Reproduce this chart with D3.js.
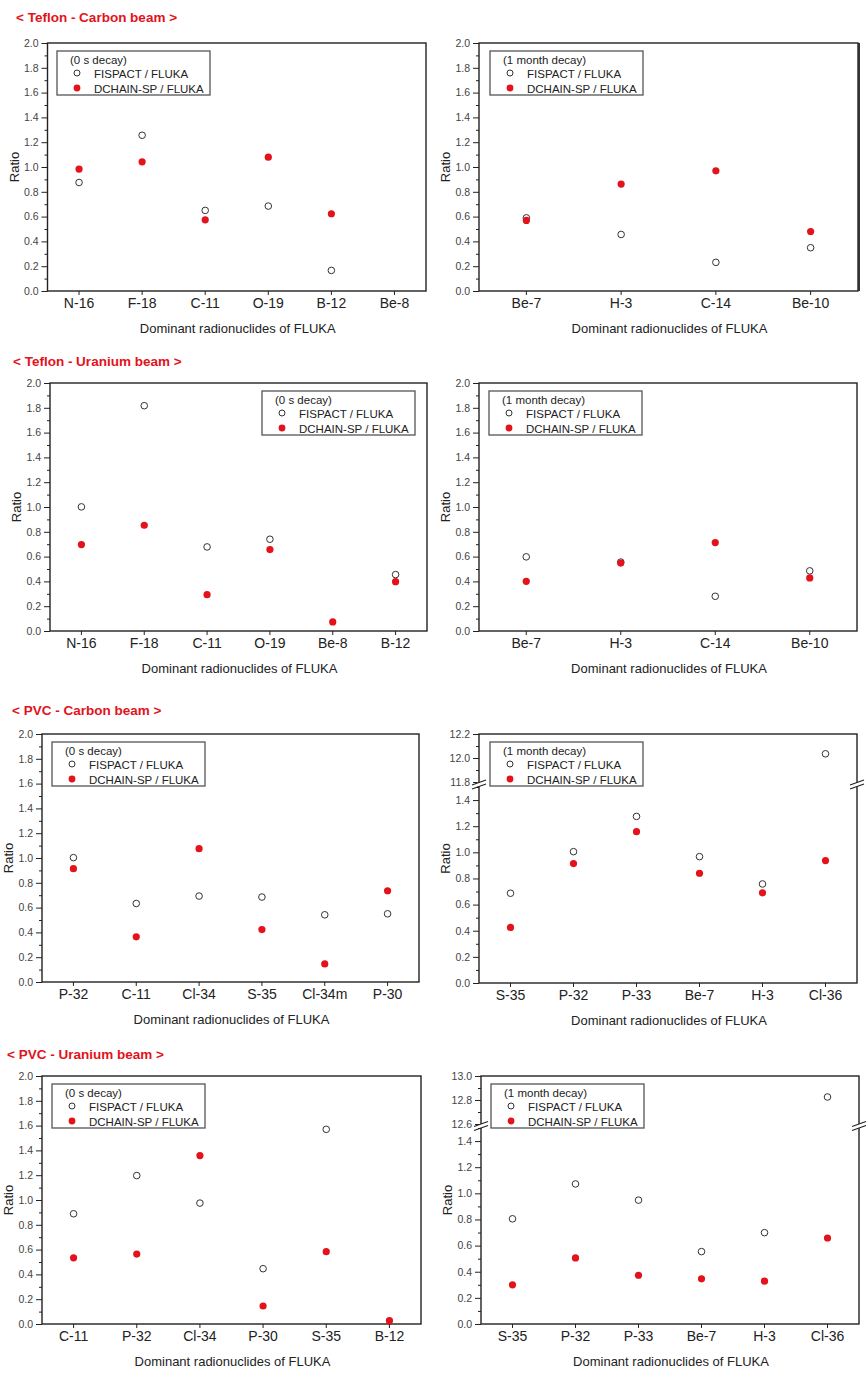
<!DOCTYPE html>
<html><head><meta charset="utf-8">
<script src="https://cdn.jsdelivr.net/npm/d3@7/dist/d3.min.js"></script>
<style>
html,body{margin:0;padding:0;background:#fff;}
svg{display:block;font-family:"Liberation Sans",Arial,sans-serif;}
</style></head>
<body>
<svg id="chart" width="868" height="1382"></svg>
<script>
// ---------------- DATA ----------------
const sectionTitles = ["< Teflon - Carbon beam >", "< Teflon - Uranium beam >", "< PVC - Carbon beam >", "< PVC - Uranium beam >"];
const legendDecay0 = "(0 s decay)";
const legendDecay1m = "(1 month decay)";
const seriesNames = ["FISPACT / FLUKA", "DCHAIN-SP / FLUKA"];
const xAxisTitle = "Dominant radionuclides of FLUKA";
const yAxisTitle = "Ratio";

const yTicks = [0.0, 0.2, 0.4, 0.6, 0.8, 1.0, 1.2, 1.4, 1.6, 1.8, 2.0];
const yTicksLowerBroken = [0.0, 0.2, 0.4, 0.6, 0.8, 1.0, 1.2, 1.4];
const yTicksUpperPvcC = [11.8, 12.0, 12.2];
const yTicksUpperPvcU = [12.6, 12.8, 13.0];

// Teflon - Carbon, 0 s
const tcCats0 = ["N-16", "F-18", "C-11", "O-19", "B-12", "Be-8"];
const tcFis0  = [0.875, 1.256, 0.650, 0.685, 0.166, null];
const tcDch0  = [0.983, 1.042, 0.574, 1.079, 0.623, null];
// Teflon - Carbon, 1 month
const tcCats1 = ["Be-7", "H-3", "C-14", "Be-10"];
const tcFis1  = [0.590, 0.456, 0.231, 0.349];
const tcDch1  = [0.569, 0.862, 0.969, 0.480];
// Teflon - Uranium, 0 s
const tuCats0 = ["N-16", "F-18", "C-11", "O-19", "Be-8", "B-12"];
const tuFis0  = [1.001, 1.817, 0.678, 0.740, null, 0.455];
const tuDch0  = [0.697, 0.853, 0.293, 0.657, 0.073, 0.398];
// Teflon - Uranium, 1 month
const tuCats1 = ["Be-7", "H-3", "C-14", "Be-10"];
const tuFis1  = [0.598, 0.556, 0.280, 0.485];
const tuDch1  = [0.401, 0.548, 0.713, 0.428];
// PVC - Carbon, 0 s
const pcCats0 = ["P-32", "C-11", "Cl-34", "S-35", "Cl-34m", "P-30"];
const pcFis0  = [1.003, 0.633, 0.693, 0.685, 0.542, 0.550];
const pcDch0  = [0.914, 0.364, 1.075, 0.423, 0.146, 0.736];
// PVC - Carbon, 1 month
const pcCats1 = ["S-35", "P-32", "P-33", "Be-7", "H-3", "Cl-36"];
const pcFis1  = [0.687, 1.005, 1.275, 0.967, 0.758, 12.035];
const pcDch1  = [0.425, 0.914, 1.158, 0.840, 0.690, 0.937];
// PVC - Uranium, 0 s
const puCats0 = ["C-11", "P-32", "Cl-34", "P-30", "S-35", "B-12"];
const puFis0  = [0.889, 1.197, 0.975, 0.446, 1.570, null];
const puDch0  = [0.534, 0.564, 1.358, 0.145, 0.583, 0.027];
// PVC - Uranium, 1 month
const puCats1 = ["S-35", "P-32", "P-33", "Be-7", "H-3", "Cl-36"];
const puFis1  = [0.805, 1.072, 0.948, 0.554, 0.699, 12.825];
const puDch1  = [0.300, 0.506, 0.373, 0.346, 0.328, 0.658];

// ---------------- LAYOUT ----------------
const panels = [
  {cats: tcCats0, fis: tcFis0, dch: tcDch0, decay: legendDecay0, L: 47.5, R: 426, T: 43, B: 291, lx: 57, ly: 51},
  {cats: tcCats1, fis: tcFis1, dch: tcDch1, decay: legendDecay1m, L: 479, R: 858, T: 43, B: 291, lx: 490, ly: 51, thickRight: true},
  {cats: tuCats0, fis: tuFis0, dch: tuDch0, decay: legendDecay0, L: 50, R: 427, T: 383, B: 631, lx: 262, ly: 391},
  {cats: tuCats1, fis: tuFis1, dch: tuDch1, decay: legendDecay1m, L: 479, R: 857, T: 383, B: 631, lx: 489, ly: 391},
  {cats: pcCats0, fis: pcFis0, dch: pcDch0, decay: legendDecay0, L: 42, R: 419, T: 734, B: 982, lx: 52, ly: 742},
  {cats: pcCats1, fis: pcFis1, dch: pcDch1, decay: legendDecay1m, L: 479, R: 857, T: 734, B: 983, lx: 490, ly: 742,
     broken: {upper: yTicksUpperPvcC, lower: yTicksLowerBroken, lowerMax: 1.5, upperBottom: 782, lowerTop: 787}},
  {cats: puCats0, fis: puFis0, dch: puDch0, decay: legendDecay0, L: 42, R: 421, T: 1076, B: 1324, lx: 52, ly: 1084},
  {cats: puCats1, fis: puFis1, dch: puDch1, decay: legendDecay1m, L: 481, R: 859, T: 1076, B: 1324, lx: 491, ly: 1084,
     broken: {upper: yTicksUpperPvcU, lower: yTicksLowerBroken, lowerMax: 1.5, upperBottom: 1124, lowerTop: 1128}}
];
const titlePos = [[16, 21.5], [13, 366], [12, 715], [7, 1059]];

const RED = "#e3121b";
const svg = d3.select("#chart");
const fmt = d3.format(".1f");

sectionTitles.forEach((t, i) => {
  svg.append("text").attr("x", titlePos[i][0]).attr("y", titlePos[i][1])
    .attr("fill", RED).attr("font-weight", "bold").attr("font-size", 13.5)
    .text(t);
});

function minorVals(ticks) {
  const out = [];
  for (let i = 0; i < ticks.length - 1; i++) out.push(+((ticks[i] + ticks[i + 1]) / 2).toFixed(3));
  return out;
}

function styleAxis(g, size) {
  g.select(".domain").remove();
  g.selectAll(".tick line").attr("stroke", "#222").attr("stroke-width", 1);
  g.selectAll(".tick text").attr("fill", "#444").attr("font-size", size)
    .attr("font-family", "'Liberation Sans', Arial, sans-serif");
}

panels.forEach(p => {
  const g = svg.append("g");
  const x = d3.scaleBand().domain(p.cats).range([p.L, p.R]);
  const cx = c => x(c) + x.bandwidth() / 2;

  let yMap;
  if (!p.broken) {
    const y = d3.scaleLinear().domain([0, 2]).range([p.B, p.T]);
    yMap = v => y(v);
    const ga = g.append("g").attr("transform", `translate(${p.L},0)`)
      .call(d3.axisLeft(y).tickValues(yTicks).tickSize(6).tickPadding(3).tickFormat(fmt));
    styleAxis(ga, 10.5);
    const gm = g.append("g").attr("transform", `translate(${p.L},0)`)
      .call(d3.axisLeft(y).tickValues(minorVals(yTicks)).tickSize(3).tickFormat(""));
    styleAxis(gm, 10);
  } else {
    const b = p.broken;
    const yU = d3.scaleLinear().domain([b.upper[0], b.upper[b.upper.length - 1]]).range([b.upperBottom, p.T]);
    const yL = d3.scaleLinear().domain([0, b.lowerMax]).range([p.B, b.lowerTop]);
    yMap = v => v > b.lowerMax ? yU(v) : yL(v);
    [[yU, b.upper], [yL, b.lower]].forEach(([sc, tv]) => {
      const ga = g.append("g").attr("transform", `translate(${p.L},0)`)
        .call(d3.axisLeft(sc).tickValues(tv).tickSize(6).tickPadding(3).tickFormat(fmt));
      styleAxis(ga, 10.5);
      const mv = minorVals(tv);
      if (sc === yL) mv.push(1.5);
      const gm = g.append("g").attr("transform", `translate(${p.L},0)`)
        .call(d3.axisLeft(sc).tickValues(mv).tickSize(3).tickFormat(""));
      styleAxis(gm, 10);
    });
  }

  // bottom axis
  const gx = g.append("g").attr("transform", `translate(0,${p.B})`)
    .call(d3.axisBottom(x).tickSize(4).tickPadding(3));
  styleAxis(gx, 14);
  gx.selectAll(".tick text").attr("fill", "#222");

  // frame
  g.append("rect").attr("x", p.L).attr("y", p.T).attr("width", p.R - p.L).attr("height", p.B - p.T)
    .attr("fill", "none").attr("stroke", "#222").attr("stroke-width", 1.4);
  if (p.thickRight) {
    g.append("line").attr("x1", p.R + 1).attr("x2", p.R + 1).attr("y1", p.T).attr("y2", p.B)
      .attr("stroke", "#333").attr("stroke-width", 2);
  }

  // break marks
  if (p.broken) {
    const by = (p.broken.upperBottom + p.broken.lowerTop) / 2;
    [p.L, p.R].forEach(ax => {
      g.append("rect").attr("x", ax - 2).attr("y", by - 2).attr("width", 4).attr("height", 4).attr("fill", "#fff");
      [-2, 2].forEach(o => {
        g.append("line").attr("x1", ax - 7).attr("y1", by + o + 2.5).attr("x2", ax + 7).attr("y2", by + o - 2.5)
          .attr("stroke", "#222").attr("stroke-width", 1.1);
      });
    });
  }

  // axis titles
  g.append("text").attr("x", (p.L + p.R) / 2 + 1).attr("y", p.B + 42).attr("text-anchor", "middle")
    .attr("font-size", 13).attr("fill", "#222").text(xAxisTitle);
  g.append("text").attr("transform", `translate(${p.L - 29},${(p.T + p.B) / 2}) rotate(-90)`)
    .attr("text-anchor", "middle").attr("font-size", 13).attr("fill", "#222").text(yAxisTitle);

  // points
  const fisPts = p.cats.map((c, i) => ({c, v: p.fis[i]})).filter(d => d.v != null);
  const dchPts = p.cats.map((c, i) => ({c, v: p.dch[i]})).filter(d => d.v != null);
  g.selectAll(".fis").data(fisPts).enter().append("circle")
    .attr("cx", d => cx(d.c)).attr("cy", d => yMap(d.v)).attr("r", 3.3)
    .attr("fill", "#fff").attr("stroke", "#333").attr("stroke-width", 1);
  g.selectAll(".dch").data(dchPts).enter().append("circle")
    .attr("cx", d => cx(d.c)).attr("cy", d => yMap(d.v)).attr("r", 3.6)
    .attr("fill", RED);

  // legend
  const lg = g.append("g").attr("transform", `translate(${p.lx},${p.ly})`);
  lg.append("rect").attr("width", 153).attr("height", 44).attr("fill", "#fff")
    .attr("stroke", "#555").attr("stroke-width", 1.3);
  lg.append("text").attr("x", 13).attr("y", 12.5).attr("font-size", 11.5).attr("fill", "#222").text(p.decay);
  lg.append("circle").attr("cx", 20).attr("cy", 22).attr("r", 3).attr("fill", "#fff").attr("stroke", "#333");
  lg.append("text").attr("x", 37).attr("y", 26.5).attr("font-size", 11.5).attr("fill", "#222").text(seriesNames[0]);
  lg.append("circle").attr("cx", 20).attr("cy", 37).attr("r", 3.4).attr("fill", RED);
  lg.append("text").attr("x", 37).attr("y", 41.5).attr("font-size", 11.5).attr("fill", "#222").text(seriesNames[1]);
});
</script>
</body></html>
